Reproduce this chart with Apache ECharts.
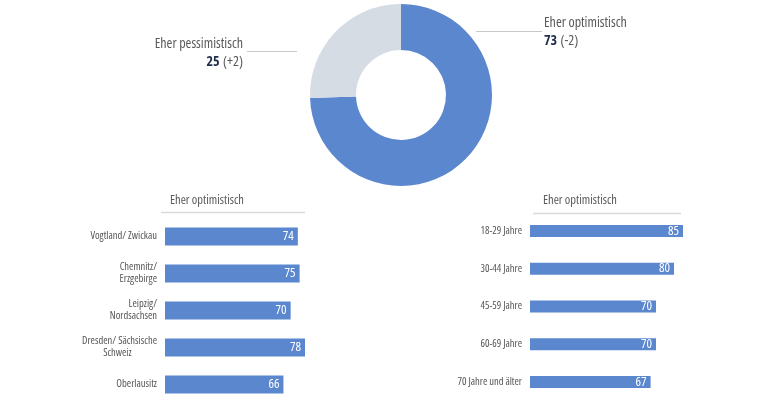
<!DOCTYPE html>
<html>
<head>
<meta charset="utf-8">
<script src="https://cdn.jsdelivr.net/npm/echarts@6/dist/echarts.min.js"></script>
<style>
html, body { margin: 0; padding: 0; background: #fff; }
#main { width: 779px; height: 403px; }
</style>
</head>
<body>
<div id="main"></div>
<script>
// Gesamt
var pieNames = ['Eher optimistisch', 'Eher pessimistisch'];
var pieValues = [73, 25];
var pieChanges = ['(-2)', '(+2)'];

// nach Region
var regionLabels = ['Vogtland/ Zwickau', 'Chemnitz/\nErzgebirge', 'Leipzig/\nNordsachsen', 'Dresden/ Sächsische\nSchweiz             ', 'Oberlausitz'];
var regionValues = [74, 75, 70, 78, 66];

// nach Alter
var ageLabels = ['18-29 Jahre', '30-44 Jahre', '45-59 Jahre', '60-69 Jahre', '70 Jahre und älter'];
var ageValues = [85, 80, 70, 70, 67];

var barHeader = 'Eher optimistisch';

// schmale Schrift: Open Sans mit font-stretch condensed
var FONT = '"Open Sans", sans-serif';
var NARROW = 'condensed';
var BLUE = '#5b87cf';
var GREY = '#d6dce4';
var TEXT = '#595959';
var LINE = '#c8c8c8';

var myChart = echarts.init(document.getElementById('main'));

var pieData = [];
for (var i = 0; i < pieValues.length; i++) {
    pieData.push({
        name: pieNames[i],
        value: pieValues[i],
        change: pieChanges[i],
        itemStyle: {color: i == 0 ? BLUE : GREY}
    });
}
// Position der Beschriftungen
var pieLabelPos = [
    {x: 544, y: 14, align: 'left'},
    {x: 243, y: 35, align: 'right'}
];

function yAxisCat(idx, labels) {
    return {
        type: 'category',
        gridIndex: idx,
        data: labels,
        inverse: true,
        axisLine: {show: false},
        axisTick: {show: false},
        axisLabel: {
            color: '#555',
            fontFamily: FONT,
            fontWeight: NARROW,
            fontSize: 10.5,
            lineHeight: 12,
            margin: 8
        }
    };
}

function barSeries(idx, values, width) {
    return {
        type: 'bar',
        xAxisIndex: idx,
        yAxisIndex: idx,
        data: values,
        barWidth: width,
        itemStyle: {color: BLUE},
        silent: true,
        label: {
            show: true,
            position: 'insideRight',
            distance: 4,
            color: '#fff',
            fontFamily: FONT,
            fontWeight: NARROW,
            fontSize: 13
        }
    };
}

var headStyle = {color: TEXT, fontWeight: NARROW, fontSize: 12.5, fontFamily: FONT};

option = {
    animation: false,
    title: [
        {text: barHeader, left: 170, top: 194, padding: 0, textStyle: headStyle},
        {text: barHeader, left: 543, top: 194, padding: 0, textStyle: headStyle}
    ],
    grid: [
        {left: 165, width: 140, top: 218, bottom: -5},
        {left: 530, width: 153, top: 212, bottom: 2}
    ],
    xAxis: [
        {type: 'value', gridIndex: 0, min: 0, max: 78, show: false},
        {type: 'value', gridIndex: 1, min: 0, max: 85, show: false}
    ],
    yAxis: [
        yAxisCat(0, regionLabels),
        yAxisCat(1, ageLabels)
    ],
    graphic: [
        {type: 'line', shape: {x1: 476, y1: 31.5, x2: 542, y2: 31.5}, style: {stroke: LINE, lineWidth: 1}},
        {type: 'line', shape: {x1: 247, y1: 51.5, x2: 297, y2: 51.5}, style: {stroke: LINE, lineWidth: 1}},
        {type: 'line', shape: {x1: 161, y1: 212.5, x2: 305, y2: 212.5}, style: {stroke: '#dadada', lineWidth: 1.5}},
        {type: 'line', shape: {x1: 533, y1: 213.5, x2: 681, y2: 213.5}, style: {stroke: '#dadada', lineWidth: 1.5}}
    ],
    series: [
        {
            type: 'pie',
            center: [401, 95],
            radius: [45, 91],
            startAngle: 90,
            clockwise: true,
            silent: true,
            data: pieData,
            labelLine: {show: false},
            label: {
                show: true,
                formatter: function (p) {
                    return '{n|' + p.name + '}\n{v|' + p.value + '} {c|' + p.data.change + '}';
                },
                rich: {
                    n: {color: TEXT, fontSize: 14, fontWeight: NARROW, fontFamily: FONT, lineHeight: 18},
                    v: {color: '#1f2d4d', fontSize: 14, fontWeight: 'bold condensed', fontFamily: FONT, lineHeight: 18},
                    c: {color: TEXT, fontSize: 14, fontWeight: NARROW, fontFamily: FONT, lineHeight: 18}
                }
            },
            labelLayout: function (params) {
                var p = pieLabelPos[params.dataIndex];
                return {x: p.x, y: p.y, align: p.align, verticalAlign: 'top'};
            }
        },
        barSeries(0, regionValues, 18),
        barSeries(1, ageValues, 12)
    ]
};

myChart.setOption(option);
</script>
</body>
</html>
